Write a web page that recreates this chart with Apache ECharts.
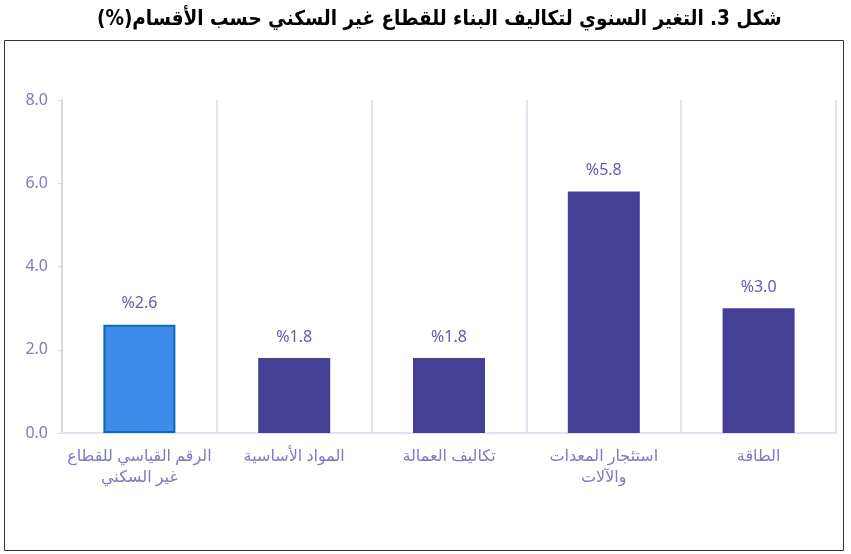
<!DOCTYPE html>
<html>
<head>
<meta charset="utf-8">
<script src="https://cdn.jsdelivr.net/npm/echarts@6/dist/echarts.min.js"></script>
<style>
    html, body { margin: 0; padding: 0; background: #fff; }
    #chart { width: 851px; height: 554px; }
</style>
</head>
<body>
<div id="chart"></div>
<script>
var categories = [
    'الرقم القياسي للقطاع\nغير السكني',
    'المواد الأساسية',
    'تكاليف العمالة',
    'استئجار المعدات\nوالآلات',
    'الطاقة'
];
var values = [2.6, 1.8, 1.8, 5.8, 3.0];
var yTicks = [0, 2, 4, 6, 8];

var chart = echarts.init(document.getElementById('chart'));

var seriesData = values.map(function (v, i) {
    if (i === 0) {
        return {
            value: v,
            itemStyle: { color: '#3e8bea', borderColor: '#0d67bd', borderWidth: 2 }
        };
    }
    return { value: v, itemStyle: { color: '#463f96' } };
});

option = {
    animation: false,
    textStyle: { fontFamily: 'Noto Sans, DejaVu Sans, sans-serif' },
    title: {
        // RLE ... PDF so the (%) ends up on the left like the original
        text: '\u202Bشكل 3. التغير السنوي لتكاليف البناء للقطاع غير السكني حسب الأقسام(%)\u202C',
        left: 92,
        top: 4,
        textStyle: {
            fontSize: 20.5,
            fontWeight: 'bold',
            color: '#000',
            fontFamily: 'DejaVu Sans Condensed, DejaVu Sans, sans-serif'
        }
    },
    graphic: [{
        type: 'rect',
        shape: { x: 4.5, y: 40.5, width: 839, height: 510 },
        style: { fill: 'none', stroke: '#333', lineWidth: 1 },
        silent: true
    }],
    grid: { left: 62, right: 15, top: 100, bottom: 121 },
    xAxis: {
        type: 'category',
        data: categories,
        axisLine: { lineStyle: { color: '#e2e1ef', width: 2 } },
        axisTick: { show: false },
        axisLabel: {
            interval: 0,
            color: '#7e7bb9',
            fontSize: 16,
            margin: 13,
            lineHeight: 21
        },
        splitLine: { show: true, lineStyle: { color: '#e4e3f0', width: 2 } }
    },
    yAxis: {
        type: 'value',
        min: yTicks[0],
        max: yTicks[yTicks.length - 1],
        interval: 2,
        axisLine: { show: true, lineStyle: { color: '#d9d9d9', width: 2 } },
        axisTick: { show: true, length: 4, lineStyle: { color: '#d9d9d9' } },
        axisLabel: {
            color: '#7e7bb9', fontSize: 16, margin: 14,
            formatter: function (v) { return v.toFixed(1); }
        },
        splitLine: { show: false }
    },
    series: [{
        type: 'bar',
        data: seriesData,
        barWidth: 72,
        label: {
            show: true,
            position: 'top',
            distance: 13,
            color: '#615dab',
            fontSize: 16,
            formatter: function (p) { return '%' + p.value.toFixed(1); }
        }
    }]
};

chart.setOption(option);
</script>
</body>
</html>
